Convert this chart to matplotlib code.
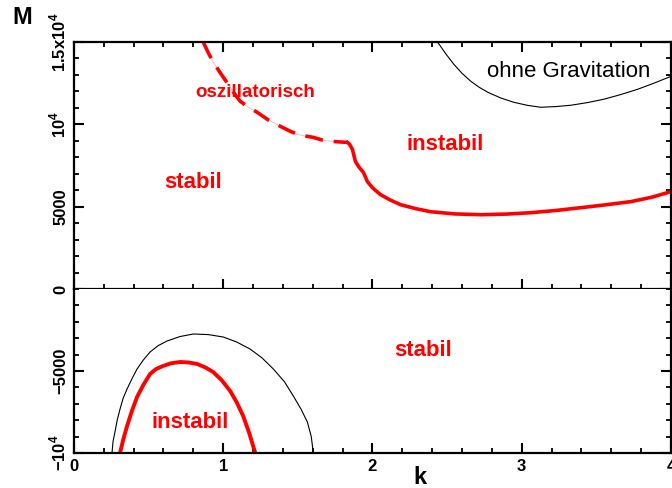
import matplotlib
matplotlib.use("Agg")
import matplotlib.pyplot as plt
from matplotlib.ticker import MultipleLocator, FixedLocator, FixedFormatter

plt.rcParams['font.family'] = ['Liberation Sans', 'DejaVu Sans']
plt.rcParams['mathtext.fontset'] = 'custom'
plt.rcParams['mathtext.rm'] = 'Liberation Sans:bold'
plt.rcParams['mathtext.bf'] = 'Liberation Sans:bold'

# ---- data ----
# upper panel, red: oscillatory (dashed) branch
k_osc = [0.866, 0.90, 0.933, 0.99, 1.047, 1.08, 1.114, 1.17, 1.228, 1.30, 1.383,
         1.44, 1.497, 1.55, 1.604, 1.671, 1.75, 1.832]
M_osc = [15000, 14350, 13780, 13000, 12257, 11800, 11403, 11030, 10732, 10280, 9879,
         9620, 9391, 9290, 9207, 9025, 8950, 8903]
# upper panel, red: solid instability boundary
k_inst = [1.832, 1.846, 1.866, 1.886, 1.91, 1.94, 1.966, 2.00, 2.054, 2.12, 2.188,
          2.29, 2.389, 2.55, 2.725, 2.90, 3.06, 3.23, 3.396, 3.56, 3.73, 3.87, 4.0]
M_inst = [8903, 8800, 8476, 7745, 7400, 7074, 6525, 6150, 5732, 5400, 5122,
          4880, 4695, 4560, 4512, 4550, 4634, 4770, 4939, 5110, 5305, 5570, 5915]
# upper panel, black: without gravitation
k_ng = [2.436, 2.49, 2.544, 2.60, 2.658, 2.715, 2.772, 2.86, 2.946, 3.04, 3.128,
        3.23, 3.329, 3.44, 3.55, 3.66, 3.778, 3.88, 3.987, 4.0]
M_ng = [15000, 14300, 13660, 13100, 12623, 12250, 11952, 11600, 11342, 11150, 11037,
        11080, 11160, 11320, 11525, 11800, 12135, 12480, 12867, 12920]
# lower panel, black: without gravitation
k_ng2 = [0.255, 0.262, 0.275, 0.29, 0.309, 0.33, 0.356, 0.39, 0.423, 0.465, 0.51,
         0.565, 0.624, 0.71, 0.8, 0.9, 1.0, 1.09, 1.18, 1.26, 1.336, 1.41, 1.47,
         1.52, 1.564, 1.59, 1.604]
M_ng2 = [-10000, -9300, -8720, -8000, -7318, -6650, -6098, -5450, -4878, -4330, -3842,
         -3450, -3171, -2900, -2744, -2780, -2927, -3230, -3659, -4200, -4878, -5650, -6525,
         -7300, -8110, -9000, -10000]
# lower panel, red
k_r2 = [0.309, 0.33, 0.356, 0.39, 0.423, 0.465, 0.51, 0.55, 0.597, 0.65, 0.711,
        0.77, 0.826, 0.88, 0.933, 0.99, 1.047, 1.09, 1.134, 1.175, 1.215]
M_r2 = [-10000, -9200, -8354, -7400, -6586, -5850, -5183, -4880, -4695, -4530, -4451,
        -4480, -4573, -4780, -5061, -5560, -6220, -6900, -7745, -8800, -10000]

xticks = [0, 1, 2, 3, 4]
yticks_top = [0, 5000, 10000, 15000]
ylabels_top = ['0', '5000', '10$^{4}$', '1.5x10$^{4}$']
yticks_bot = [-10000, -5000]
ylabels_bot = ['\u221210$^{4}$', '\u22125000']

red = '#ff0000'

fig = plt.figure(figsize=(6.72, 4.88), dpi=100)
ax1 = fig.add_axes([0.110, 0.4078, 0.8885, 0.5061])
ax2 = fig.add_axes([0.110, 0.0717, 0.8885, 0.3361])

for ax in (ax1, ax2):
    ax.set_xlim(0, 4)
    for sp in ax.spines.values():
        sp.set_linewidth(1.6)
    ax.xaxis.set_major_locator(FixedLocator(xticks))
    ax.xaxis.set_minor_locator(MultipleLocator(0.2))
    ax.yaxis.set_minor_locator(MultipleLocator(1000))
    ax.tick_params(which='major', direction='in', length=7, width=1.5,
                   labelsize=12, right=True)
    ax.tick_params(which='minor', direction='in', length=3.5, width=1.3, right=True)

ax1.set_ylim(0, 15000)
ax1.yaxis.set_major_locator(FixedLocator(yticks_top))
ax1.yaxis.set_major_formatter(FixedFormatter(ylabels_top))
ax1.tick_params(which='both', top=True, bottom=True, labelbottom=False)

ax2.set_ylim(-10000, 0)
ax2.yaxis.set_major_locator(FixedLocator(yticks_bot))
ax2.yaxis.set_major_formatter(FixedFormatter(ylabels_bot))
ax2.tick_params(which='both', top=False, bottom=True)
ax2.set_xticklabels([str(v) for v in xticks])
ax2.spines['top'].set_visible(False)

for ax in (ax1, ax2):
    for lab in ax.get_yticklabels():
        lab.set_rotation(90)
        lab.set_va('center')
        lab.set_fontweight('bold')
    for lab in ax.get_xticklabels():
        lab.set_fontweight('bold')
    ax.tick_params(axis='y', pad=4)
    ax.tick_params(axis='x', pad=4)

# curves
ax1.plot(k_osc, M_osc, color='#ffb0b0', lw=0.6)
ax1.plot(k_osc, M_osc, color=red, lw=2.6, dashes=(5.0, 3.0))
ax1.plot(k_inst, M_inst, color=red, lw=2.6, solid_joinstyle='round')
ax1.plot(k_ng, M_ng, color='black', lw=0.8, solid_joinstyle='round')
ax2.plot(k_ng2, M_ng2, color='black', lw=0.8, solid_joinstyle='round')
ax2.plot(k_r2, M_r2, color=red, lw=2.8, solid_joinstyle='round')

# texts
ax1.text(1.215, 11952, 'oszillatorisch', color=red, fontsize=13.5, fontweight='bold',
         ha='center', va='center')
ax1.text(2.49, 8781, 'instabil', color=red, fontsize=16, fontweight='bold',
         ha='center', va='center')
ax1.text(0.80, 6464, 'stabil', color=red, fontsize=16, fontweight='bold',
         ha='center', va='center')
ax1.text(3.315, 13233, 'ohne Gravitation', color='black', fontsize=16,
         ha='center', va='center')
ax2.text(2.342, -3720, 'stabil', color=red, fontsize=16, fontweight='bold',
         ha='center', va='center')
ax2.text(0.779, -8110, 'instabil', color=red, fontsize=16, fontweight='bold',
         ha='center', va='center')

fig.text(22 / 672, 1 - 18 / 488, 'M', fontsize=17, fontweight='bold',
         ha='center', va='center')
fig.text(420 / 672, 1 - 478 / 488, 'k', fontsize=17, fontweight='bold',
         ha='center', va='center')

fig.savefig('out.png', dpi=100)
